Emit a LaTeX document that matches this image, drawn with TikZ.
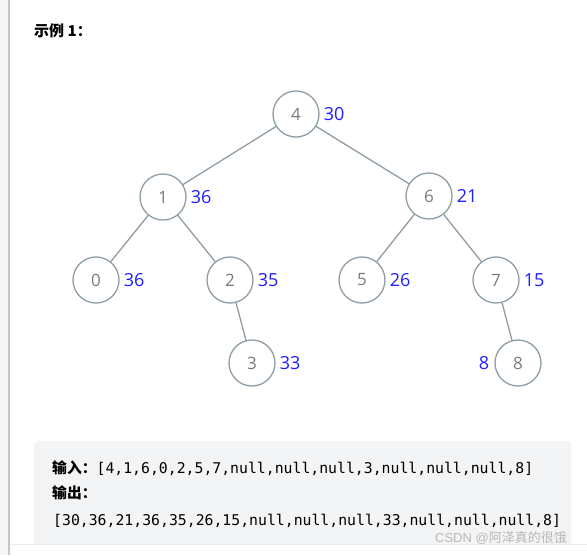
\documentclass[tikz,border=0pt]{standalone}
\usepackage{fontspec}
\setmainfont{Open Sans}
\setmonofont{DejaVu Sans Mono}
\newfontfamily\cjk{Noto Sans CJK SC}
\newfontfamily\arial{Liberation Sans}
\usetikzlibrary{positioning}

\definecolor{edgegray}{HTML}{8D9CA5}
\definecolor{numgray}{HTML}{7A7A7A}
\definecolor{sumblue}{HTML}{1F1FFF}
\definecolor{boxgray}{HTML}{F3F4F5}
\definecolor{sidegray}{HTML}{F6F6F6}

\begin{document}
\begin{tikzpicture}[x=1pt,y=-1pt,
    tnode/.style={circle,draw=edgegray,line width=1.3pt,minimum size=46pt,inner sep=0pt,
      text=numgray,font=\fontsize{17}{17}\selectfont},
    sum/.style={text=sumblue,inner sep=0pt,font=\fontsize{18}{18}\selectfont},
    edge/.style={edgegray,line width=1.3pt},
    codeline/.style={anchor=base west,inner sep=0pt,font=\fontsize{14.8}{16}\ttfamily}]
  \useasboundingbox (0,0) rectangle (587,555);
  % page frame
  \fill[sidegray] (0,0) rectangle (8,555);
  \draw[gray!45,line width=2pt] (9,0) -- (9,555);
  \fill[boxgray,rounded corners=4pt] (34,441) rectangle (571,548);
  \fill[white] (10,544) rectangle (587,555);
  \draw[gray!15,line width=1pt] (10,544) -- (587,544);
  \node[anchor=west,inner sep=0pt,font=\cjk\bfseries\fontsize{15}{15}\selectfont] (title) at (34,31) {示例 1：};

  % tree
  \foreach \n/\x/\y/\s in {4/296/114/30, 1/163/197/36, 6/429/196/21, 0/96/280/36,
                           2/230/280/35, 5/362/280/26, 7/496/280/15, 3/252/363/33} {
     \node[tnode] (n\n) at (\x,\y) {\n};
     \node[sum,right=4pt of n\n] (s\n) {\s};}
  \node[tnode] (n8) at (518,363) {8};
  \node[sum,left=5pt of n8] (s8) {8};
  \foreach \a/\b in {4/1, 4/6, 1/0, 1/2, 6/5, 6/7, 2/3, 7/8}
     \draw[edge] (n\a) -- (n\b);

  % example text
  \node[codeline] (inp) at (52,473) {{\cjk\bfseries 输入：}[4,1,6,0,2,5,7,null,null,null,3,null,null,null,8]};
  \node[codeline] (outp) at (52,498) {{\cjk\bfseries 输出：}};
  \node[codeline] (res) at (53,525) {[30,36,21,36,35,26,15,null,null,null,33,null,null,null,8]};
  \node[anchor=base east,inner sep=0pt,text=gray!55,font=\fontsize{13}{13}\selectfont] (mark) at (567,542)
     {\arial CSDN @\cjk 阿泽真的很饿};
\end{tikzpicture}
\end{document}
